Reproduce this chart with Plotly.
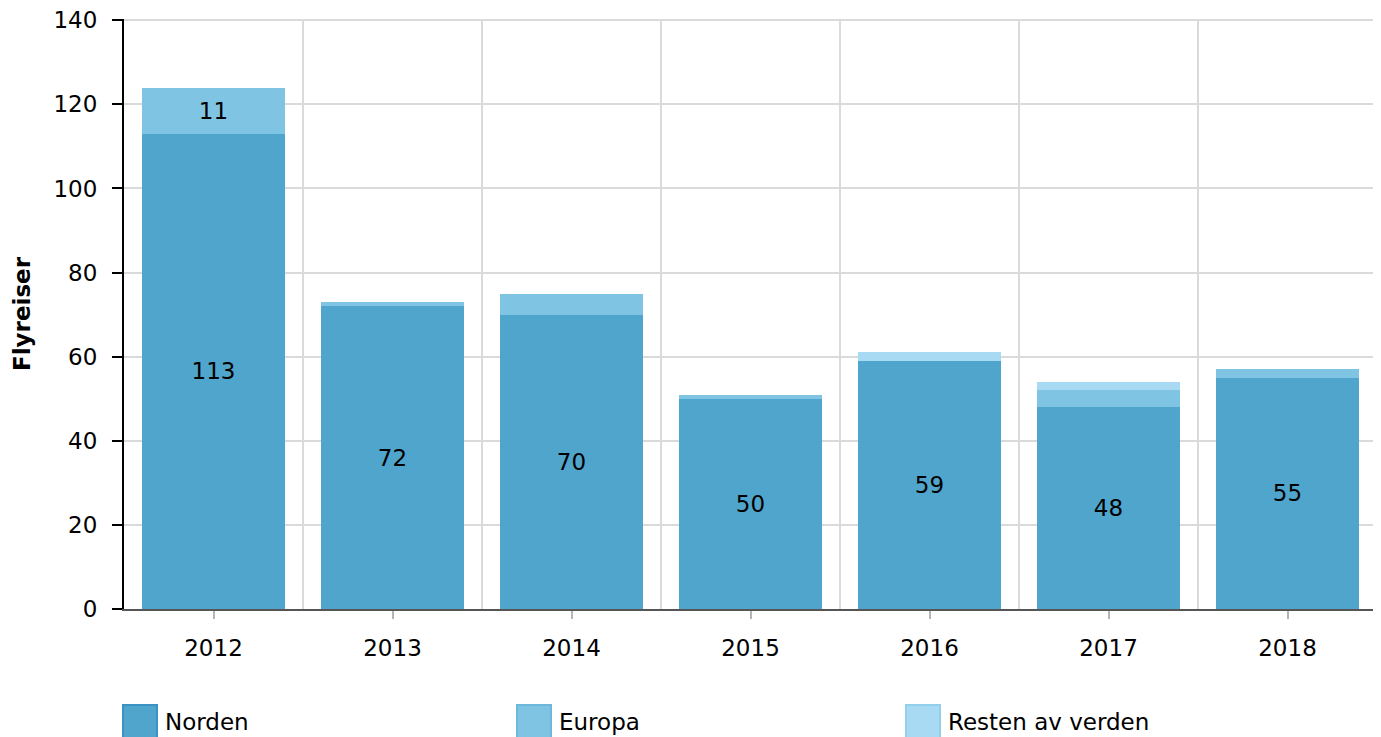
import plotly.graph_objects as go

# ── Data ──────────────────────────────────────────────────────────
years = [2012, 2013, 2014, 2015, 2016, 2017, 2018]
norden = [113, 72, 70, 50, 59, 48, 55]
europa = [11, 1, 5, 1, 0, 4, 2]
resten = [0, 0, 0, 0, 2, 2, 0]
y_ticks = [0, 20, 40, 60, 80, 100, 120, 140]

SERIES = [
    ("Norden", norden, "#50a5cc", "#3b93c4"),
    ("Europa", europa, "#80c4e4", "#6cb8dc"),
    ("Resten av verden", resten, "#a8daf3", "#94d0ee"),
]

# page body has an 8px margin, so the figure is sized/positioned to compensate
PAGE_OFF = 8
W, H = 1381 - PAGE_OFF, 737 - PAGE_OFF
L, R, T, B = 124 - PAGE_OFF, 4, 19 - PAGE_OFF, 128
FONT = dict(family="DejaVu Sans, Verdana, sans-serif", color="#000000", size=23)

fig = go.Figure()
for name, vals, color, edge in SERIES:
    fig.add_trace(go.Bar(
        name=name, x=years, y=vals,
        marker=dict(color=color, line=dict(width=0)),
        text=[str(v) if v >= 10 else "" for v in vals],
        textposition="inside", insidetextanchor="middle",
        textfont=dict(size=23, color="#000000"),
        hovertemplate="%{x}<br>" + name + ": %{y}<extra></extra>",
        showlegend=False,
    ))

# hand-drawn legend (large square swatches like the original)
plot_w, plot_h = W - L - R, H - T - B


def px(x):  # screen pixel -> paper x
    return (x - PAGE_OFF - L) / plot_w


def py(y):  # screen pixel -> paper y
    return (H - B - (y - PAGE_OFF)) / plot_h


legend_x = [123, 517, 906]
for (name, _, color, edge), lx in zip(SERIES, legend_x):
    fig.add_shape(type="rect", xref="paper", yref="paper",
                  x0=px(lx), x1=px(lx + 34), y0=py(705), y1=py(745),
                  fillcolor=color, line=dict(color=edge, width=2))
    fig.add_annotation(text=name, xref="paper", yref="paper",
                       x=px(lx + 40), y=py(722), xanchor="left", yanchor="middle",
                       showarrow=False, font=dict(size=23, color="#000000"))

fig.update_layout(
    barmode="stack",
    bargap=0.2,
    width=W, height=H,
    plot_bgcolor="white",
    paper_bgcolor="white",
    font=FONT,
    showlegend=False,
    margin=dict(l=L, r=R, t=T, b=B, autoexpand=False),
    xaxis=dict(
        range=[2011.5, 2018.5], tickmode="array", tickvals=years,
        showgrid=False, ticks="outside", ticklen=8, tickwidth=1.5, tickcolor="#b5b5b5",
        showline=True, linecolor="#555555", linewidth=1.5,
        ticklabelstandoff=10,
        minor=dict(tick0=2011.5, dtick=1, showgrid=True,
                   gridcolor="#dadada", gridwidth=1.5, ticks=""),
        zeroline=False, automargin=False,
    ),
    yaxis=dict(
        range=[0, 140.3], tickmode="array", tickvals=y_ticks,
        showgrid=True, gridcolor="#dadada", gridwidth=1.5,
        ticks="outside", ticklen=10, tickwidth=1.5, tickcolor="#000000",
        showline=True, linecolor="#000000", linewidth=2,
        ticklabelstandoff=10, ticklabeloverflow="allow",
        zeroline=False, automargin=False,
        title=dict(text="<b>Flyreiser</b>", font=dict(size=23), standoff=16),
    ),
    uniformtext=dict(mode="show", minsize=10),
)

fig.write_html("out.html")
